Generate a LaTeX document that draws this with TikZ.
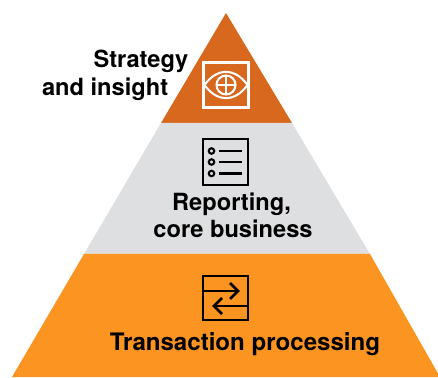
\documentclass[tikz,border=0pt]{standalone}
\usepackage{fontspec}
\setmainfont{TeX Gyre Heros}
\definecolor{toporange}{HTML}{D9681F}
\definecolor{midgray}{HTML}{DEDFE0}
\definecolor{baseorange}{HTML}{FB9420}
\tikzset{every node/.style={font=\bfseries\fontsize{13.45}{16}\selectfont, inner sep=0pt, text=black},
         icon/.style={line width=0.56mm}, iconthin/.style={line width=0.41mm}}

\begin{document}
\begin{tikzpicture}
   \useasboundingbox (0,0) rectangle (8.76,7.54);
   \fill[toporange]  (4.52,7.28) -- (5.84,5.08) -- (3.22,5.08) -- cycle;
   \fill[midgray]    (3.22,5.08) -- (5.84,5.08) -- (7.40,2.46) -- (1.68,2.46) -- cycle;
   \fill[baseorange] (1.68,2.46) -- (7.40,2.46) -- (8.76,0.07) -- (8.76,0) -- (0.24,0) -- cycle;

   % eye
   \begin{scope}[xshift=4.52cm,yshift=5.84cm,white]
    \draw[iconthin] (-0.45,-0.45) rectangle (0.45,0.45);
    \draw[iconthin] (-0.43,0) .. controls (-0.18,0.35) and (0.18,0.35) .. (0.43,0)
                    .. controls (0.18,-0.35) and (-0.18,-0.35) .. (-0.43,0);
    \draw[iconthin] (0,0) circle (0.19);
    \draw[iconthin] (-0.19,0) -- (0.19,0);
    \draw[iconthin] (0,-0.19) -- (0,0.19);
   \end{scope}

   % list
   \begin{scope}[xshift=4.51cm,yshift=4.30cm]
    \draw[iconthin] (-0.45,-0.46) rectangle (0.45,0.46);
    \foreach \y in {0.22,0,-0.23} {
     \draw[iconthin] (-0.28,\y) circle (0.055);
     \draw[icon] (-0.13,\y) -- (0.32,\y);
    }
   \end{scope}

   % arrows
   \begin{scope}[xshift=4.51cm,yshift=1.58cm]
    \draw[iconthin] (-0.45,-0.44) rectangle (0.45,0.44);
    \draw[iconthin] (-0.45,0.14) -- (0.24,0.14);
    \draw[icon] (0.09,0.30) -- (0.25,0.14) -- (0.09,-0.02);
    \draw[iconthin] (0.45,-0.16) -- (-0.22,-0.16);
    \draw[icon] (-0.07,0) -- (-0.23,-0.16) -- (-0.07,-0.32);
   \end{scope}

   \node[anchor=east] (strategy) at (3.77,6.32) {Strategy};
   \node[anchor=east] (insight)  at (3.37,5.76) {and insight};
   \node (reporting) at (4.63,3.46) {Reporting,};
   \node (business)  at (4.66,2.96) {core business};
   \node[font=\bfseries\fontsize{13.7}{16}\selectfont] (transaction) at (4.90,0.65) {Transaction processing};
\end{tikzpicture}
\end{document}
